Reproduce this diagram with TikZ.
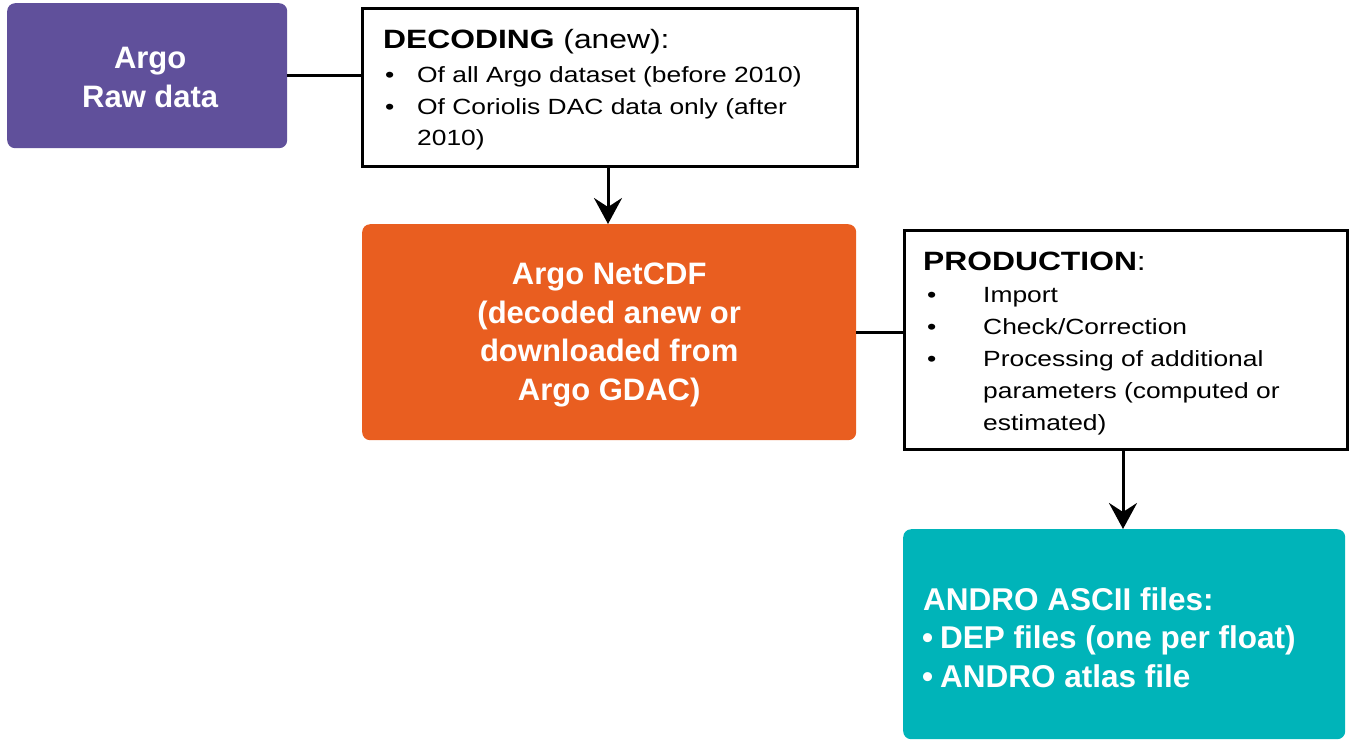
\documentclass[tikz,border=0pt]{standalone}
\usepackage{fontspec}
\setmainfont{Liberation Sans}
\newfontfamily\regfont[FakeStretch=1.2]{Liberation Sans}
\usetikzlibrary{arrows.meta}
\definecolor{rawpurple}{RGB}{96,80,155}
\definecolor{cdforange}{RGB}{233,94,32}
\definecolor{asciiteal}{RGB}{0,180,185}
\tikzset{
  fillbox/.style={anchor=north west, rounded corners=8pt, inner sep=0pt},
  boxtxt/.style={inner sep=0pt, text=white, align=center, font=\bfseries\fontsize{31}{38.5}\selectfont},
  framebox/.style={anchor=north west, draw=black, line width=3pt, fill=white, inner sep=0pt},
  headtxt/.style={anchor=base west, inner sep=0pt, font=\regfont\fontsize{26.5}{30}\selectfont},
  bodytxt/.style={anchor=base west, inner sep=0pt, font=\regfont\fontsize{22}{26}\selectfont},
  tealtxt/.style={anchor=base west, inner sep=0pt, text=white, font=\bfseries\fontsize{31.5}{36}\selectfont},
  link/.style={line width=3pt, draw=black},
  arr/.style={line width=3pt, draw=black, -{Stealth[length=26pt, width=28pt, inset=9pt]}}
}
\begin{document}
\begin{tikzpicture}[x=1pt, y=-1pt]
\useasboundingbox (0,0) rectangle (1350,740);

% boxes
\node[fillbox, fill=rawpurple, minimum width=280pt, minimum height=145pt] (raw) at (7,3) {};
\node[framebox, minimum width=495pt, minimum height=158pt] (dec) at (361,7) {};
\node[fillbox, fill=cdforange, minimum width=494pt, minimum height=216pt] (cdf) at (362,224) {};
\node[framebox, minimum width=443pt, minimum height=219pt] (prod) at (903,229) {};
\node[fillbox, fill=asciiteal, minimum width=442pt, minimum height=210pt] (ascii) at (903,529) {};

% centred box texts
\node[boxtxt] (rawtxt) at ([xshift=3pt, yshift=-2pt]raw.center) {Argo\\Raw data};
\node[boxtxt] (cdftxt) at ([yshift=-3pt]cdf.center) {Argo NetCDF\\(decoded anew or\\downloaded from\\Argo GDAC)};

% connectors
\draw[link] (raw.east) -- (raw.east -| dec.west);
\draw[arr] ([xshift=-2pt]dec.south) -- ([xshift=-2pt]dec.south |- cdf.north);
\draw[link] (cdf.east) -- (cdf.east -| prod.west);
\draw[arr] ([xshift=-3pt]prod.south) -- ([xshift=-3pt]prod.south |- ascii.north);

% decoding text
\node[headtxt] (dechead) at (383,48) {\textbf{DECODING} (anew):};
\node[bodytxt] (decbA) at (385,82) {\textbullet};
\node[bodytxt] (dectA) at (417,82) {Of all Argo dataset (before 2010)};
\node[bodytxt] (decbB) at (385,114) {\textbullet};
\node[bodytxt] (dectB) at (417,114) {Of Coriolis DAC data only (after};
\node[bodytxt] (dectC) at (417,145) {2010)};

% production text
\node[headtxt] (prodhead) at (923,270) {\textbf{PRODUCTION}:};
\node[bodytxt] (prodbA) at (927,302) {\textbullet};
\node[bodytxt] (prodtA) at (983,302) {Import};
\node[bodytxt] (prodbB) at (927,334) {\textbullet};
\node[bodytxt] (prodtB) at (983,334) {Check/Correction};
\node[bodytxt] (prodbC) at (927,366) {\textbullet};
\node[bodytxt] (prodtC) at (983,366) {Processing of additional};
\node[bodytxt] (prodtD) at (983,398) {parameters (computed or};
\node[bodytxt] (prodtE) at (983,430) {estimated)};

% ascii text
\node[tealtxt] (asciihead) at (923,610) {ANDRO ASCII files:};
\node[tealtxt] (asciibA) at (922,648) {\textbullet};
\node[tealtxt] (asciitA) at (940,648) {DEP files (one per float)};
\node[tealtxt] (asciibB) at (922,687) {\textbullet};
\node[tealtxt] (asciitB) at (940,687) {ANDRO atlas file};
\end{tikzpicture}
\end{document}
